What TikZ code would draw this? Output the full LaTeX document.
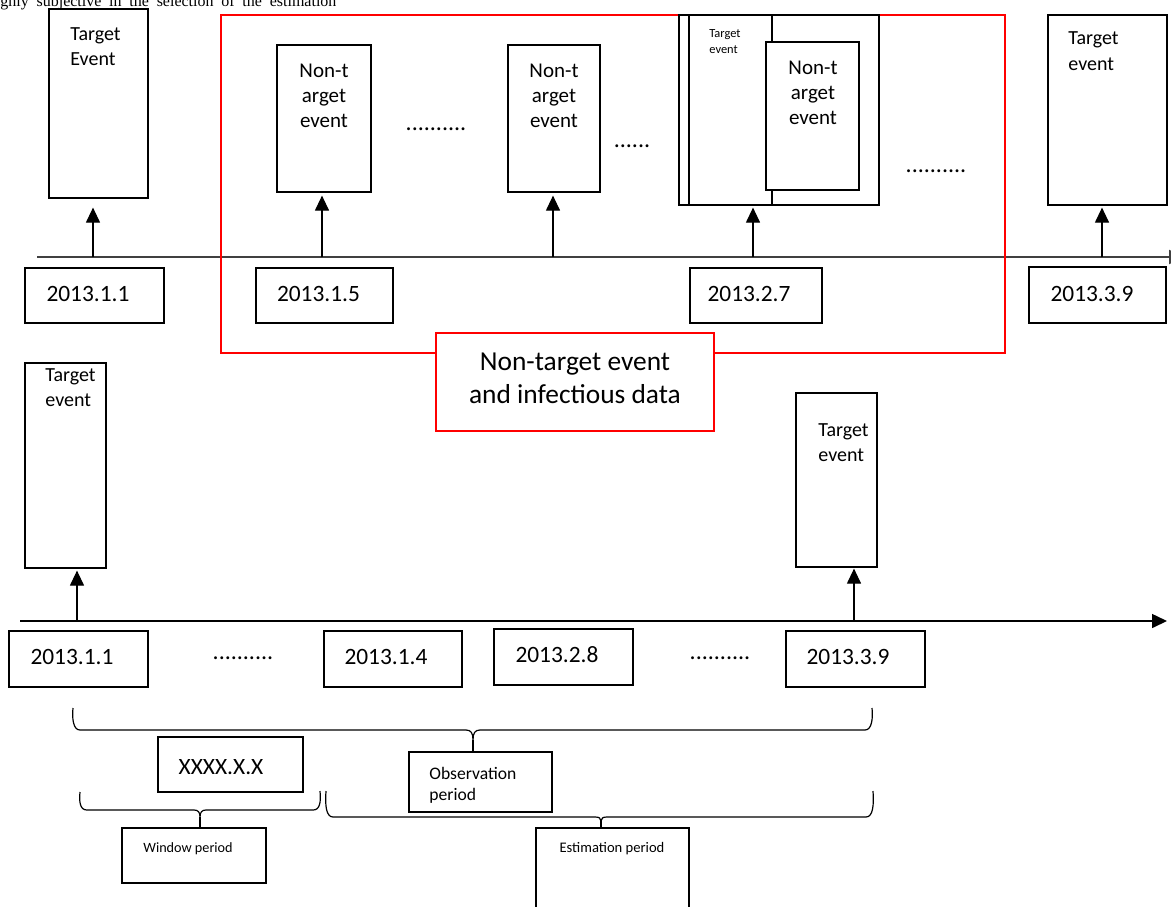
\documentclass[tikz,border=0pt]{standalone}
\usepackage{fontspec}
\setmainfont{Carlito}
\newfontfamily\timesfont{Liberation Serif}
\usetikzlibrary{arrows.meta,fit}
\newcommand\myfs[2]{\fontsize{#1}{#2}\selectfont}
\begin{document}
\begin{tikzpicture}[x=0.5pt,y=-0.5pt,
  box/.style={draw, line width=0.6pt, fill=white, inner sep=0pt},
  redbox/.style={draw=red, line width=0.65pt, inner sep=0pt},
  txt/.style={inner sep=0pt, align=center},
  ltxt/.style={inner sep=0pt, align=left, anchor=base west},
  arr/.style={line width=0.6pt, -{Triangle[length=7.5pt,width=7pt]}},
  brace/.style={line width=0.6pt},
  date/.style={inner sep=0pt, font=\myfs{11.7}{14}},
  dots/.style={inner sep=0pt, font=\myfs{12}{14}},
]
\useasboundingbox (0,0) rectangle (1171,906);

% cut-off sentence at the top
\node[anchor=base west, inner sep=0pt, font=\timesfont\myfs{8}{9}] (intro) at (0,6)
  {\makebox[168pt][s]{ghly subjective in the selection of the estimation}};

% ---------------- top timeline ----------------
\coordinate (ax1s) at (37,257);
\coordinate (ax1e) at (1184,257);
\draw[line width=1.2pt, draw=black!75, -{Triangle[length=7.5pt,width=7pt]}] (ax1s) -- (ax1e);

% red frame
\node[redbox, fit={(221,15)(1005,353)}] (redframe) {};

% event boxes (text nodes anchored at the baseline of their last line)
\node[box, fit={(49,9)(148,198)}] (tTE1) {};
\node[ltxt, font=\myfs{10}{12.5}] (tTE1t) at (70,65) {Target\\Event};

\node[box, fit={(277,45)(371,192)}] (tNT1) {};
\node[txt, anchor=base, font=\myfs{10.5}{12.5}] (tNT1t) at (324,127) {Non-t\\arget\\event};

\node[box, fit={(508,45)(600,192)}] (tNT2) {};
\node[txt, anchor=base, font=\myfs{10.5}{12.5}] (tNT2t) at (554,127) {Non-t\\arget\\event};

\node[box, fit={(679,15)(879,205)}] (tGrp) {};
\node[box, fit={(689,15)(772,205)}] (tTE2) {};
\node[ltxt, font=\myfs{6.2}{8}] (tTE2t) at (709,53) {Target\\event};
\node[box, fit={(766,42)(859,190)}] (tNT3) {};
\node[txt, anchor=base, font=\myfs{10.5}{12.5}] (tNT3t) at (813,124) {Non-t\\arget\\event};

\node[box, fit={(1048,15)(1167,205)}] (tTE3) {};
\node[ltxt, font=\myfs{10}{13}] (tTE3t) at (1068,70) {Target\\event};

\node[dots] (d1) at (436,129) {..........};
\node[dots] (d2) at (632,146) {......};
\node[dots] (d3) at (936,171) {..........};

% arrows from axis
\coordinate (p1) at (93,257);
\coordinate (p2) at (322,257);
\coordinate (p3) at (553,257);
\coordinate (p4) at (753,257);
\coordinate (p5) at (1102,257);
\draw[arr, shorten >=4.5pt] (p1) -- (p1 |- tTE1.south);
\draw[arr, shorten >=1.5pt] (p2) -- (p2 |- tNT1.south);
\draw[arr, shorten >=1.5pt] (p3) -- (p3 |- tNT2.south);
\draw[arr, shorten >=1pt] (p4) -- (p4 |- tGrp.south);
\draw[arr, shorten >=1pt] (p5) -- (p5 |- tTE3.south);

% date boxes
\node[box, fit={(25,268)(164,323)}] (tD1) {};
\node[date] at (88,293.5) {2013.1.1};
\node[box, fit={(256,268)(393,323)}] (tD2) {};
\node[date] at (318.5,293.5) {2013.1.5};
\node[box, fit={(690,268)(822,323)}] (tD3) {};
\node[date] at (749,293.5) {2013.2.7};
\node[box, fit={(1029,267)(1166,323)}] (tD4) {};
\node[date] at (1092,293.5) {2013.3.9};

% red label
\node[box, draw=red, line width=0.65pt, fit={(436,333)(714,431)}] (lbl) {};
\node[txt, anchor=base, font=\myfs{13.7}{16.5}] (lblt) at (575,403) {Non-target event\\and infectious data};

% ---------------- bottom timeline ----------------
\coordinate (ax2s) at (20,621);
\coordinate (ax2e) at (1167,621);
\draw[line width=0.75pt, -{Triangle[length=7.5pt,width=7pt]}] (ax2s) -- (ax2e);

\node[box, fit={(25,363)(106,568)}] (bTE1) {};
\node[ltxt, font=\myfs{10}{12.5}] (bTE1t) at (45,406) {Target\\event};
\node[box, fit={(796,393)(877,567)}] (bTE2) {};
\node[ltxt, font=\myfs{10}{12.5}] (bTE2t) at (818,461) {Target\\event};

\coordinate (q1) at (77,621);
\coordinate (q2) at (854,621);
\draw[arr, shorten >=1pt] (q1) -- (q1 |- bTE1.south);
\draw[arr, shorten >=0.5pt] (q2) -- (q2 |- bTE2.south);

\node[box, fit={(9,631)(148,687)}] (bD1) {};
\node[date] at (72,657) {2013.1.1};
\node[dots] (d4) at (243,658) {..........};
\node[box, fit={(324,631)(462,687)}] (bD2) {};
\node[date] at (386,657) {2013.1.4};
\node[box, fit={(494,629)(633,685)}] (bD3) {};
\node[date] at (557,655) {2013.2.8};
\node[dots] (d5) at (720,658) {..........};
\node[box, fit={(786,631)(925,687)}] (bD4) {};
\node[date] at (848,657) {2013.3.9};

% period boxes
\node[box, fit={(158,737)(303,792)}] (xbox) {};
\node[txt, font=\myfs{11.7}{14}] at (221,767) {XXXX.X.X};
\node[box, fit={(409,752)(552,812)}] (obs) {};
\node[ltxt, font=\myfs{8.8}{10.5}] at (429,800) {Observation\\period};
\node[box, fit={(122,828)(266,883)}] (wnd) {};
\node[ltxt, font=\myfs{7.1}{9}] at (143,852) {Window period};
\node[box, fit={(536,828)(689,930)}] (est) {};
\node[txt, anchor=base, font=\myfs{7.3}{9}] at (612,852) {Estimation period};

% braces
\coordinate (cObs) at (473,740);
\draw[brace] (73,708) .. controls (72,718) and (73,730) .. (80,730) -- (466,730)
  .. controls (471,730) and (473,733) .. (cObs)
  .. controls (473,733) and (475,730) .. (480,730) -- (865,730)
  .. controls (872,730) and (873,718) .. (872,708);
\draw[brace] (cObs) -- (cObs |- obs.north);

\coordinate (cWnd) at (200,817);
\draw[brace] (80,792) .. controls (79,802) and (80,810) .. (87,810) -- (194,810)
  .. controls (198,810) and (200,812) .. (cWnd)
  .. controls (200,812) and (202,810) .. (206,810) -- (313,810)
  .. controls (320,810) and (321,802) .. (320,791);
\draw[brace] (cWnd) -- (cWnd |- wnd.north);

\coordinate (cEst) at (601,821);
\draw[brace] (326,791) .. controls (325,805) and (326,817) .. (333,817) -- (595,817)
  .. controls (599,817) and (601,818) .. (cEst)
  .. controls (601,818) and (603,817) .. (607,817) -- (866,817)
  .. controls (873,817) and (874,805) .. (873,791);
\draw[brace] (cEst) -- (cEst |- est.north);
\end{tikzpicture}
\end{document}
